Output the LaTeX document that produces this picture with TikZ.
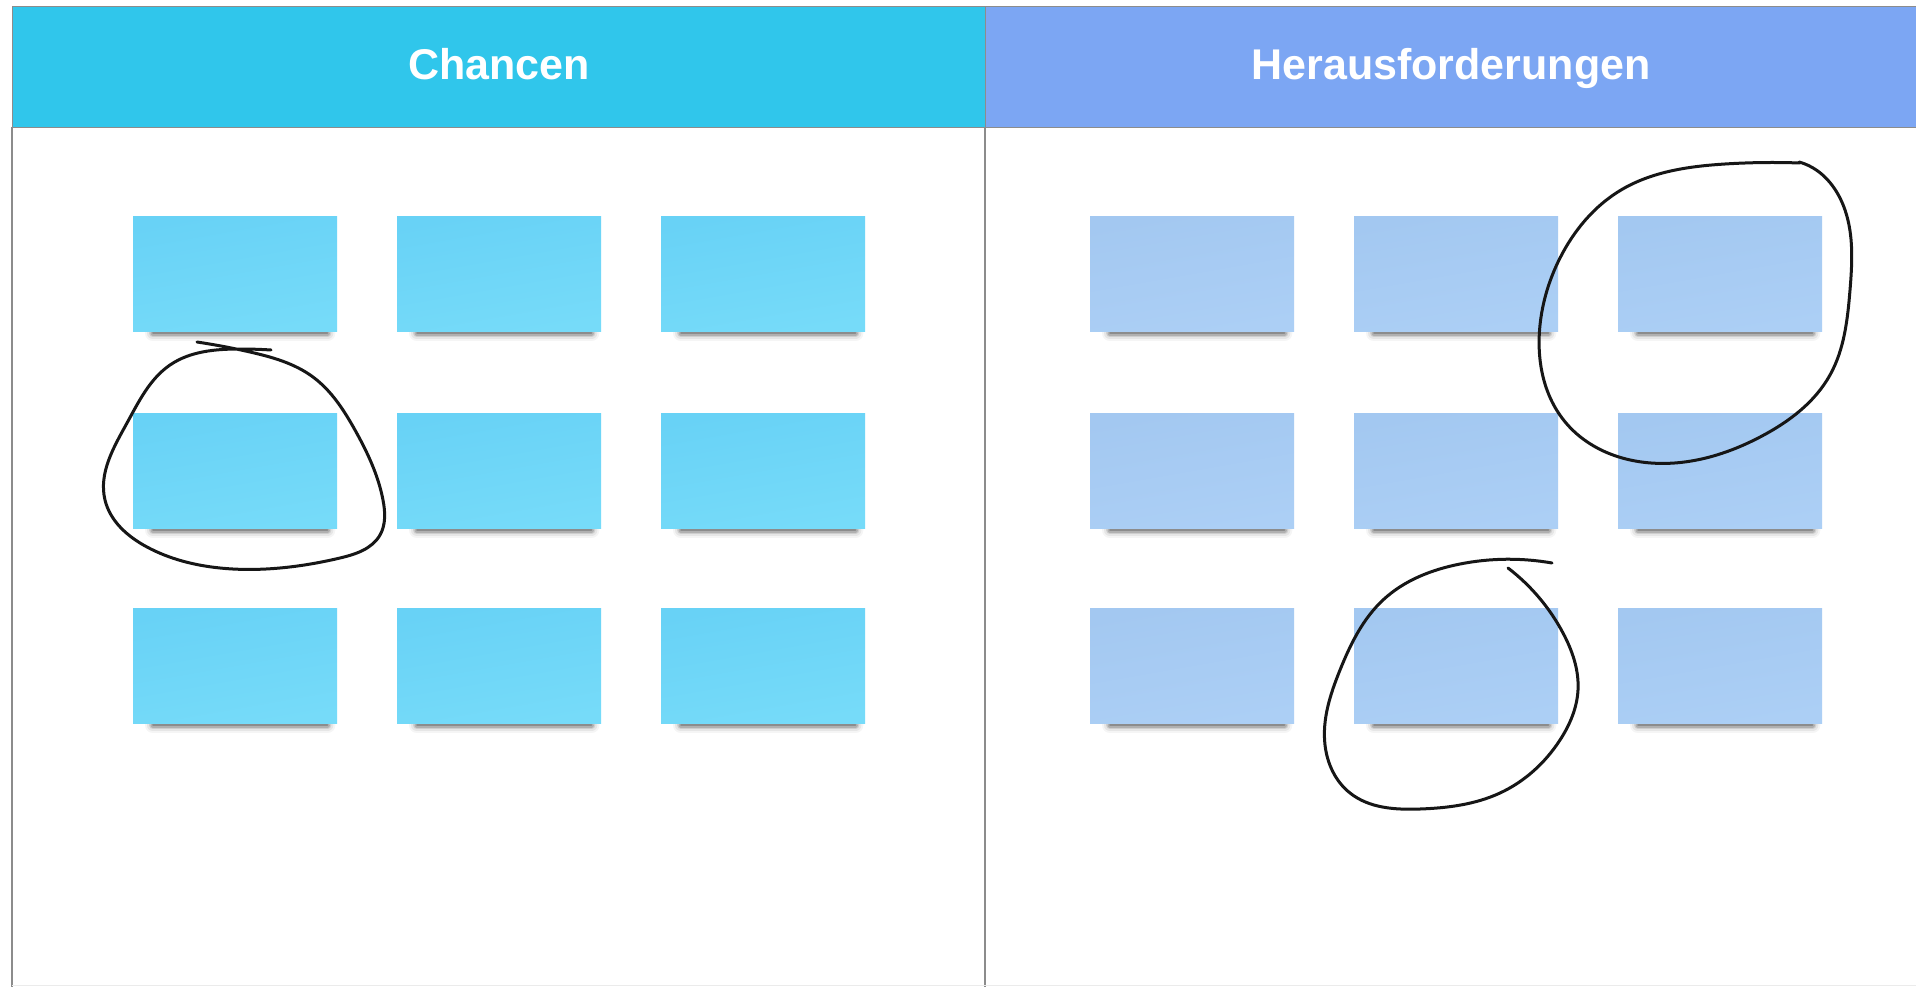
\documentclass[tikz,border=0pt]{standalone}
\usepackage{fontspec}
\setmainfont{Liberation Sans}
\usetikzlibrary{calc,hobby}
\definecolor{hdrL}{RGB}{48,198,235}
\definecolor{hdrR}{RGB}{124,166,243}
\definecolor{noteLa}{RGB}{104,210,246}
\definecolor{noteLb}{RGB}{118,219,249}
\definecolor{noteRa}{RGB}{163,200,241}
\definecolor{noteRb}{RGB}{172,207,245}
\definecolor{frameline}{RGB}{140,140,140}
\definecolor{ink}{RGB}{22,22,22}
\pgfdeclarelayer{bg}
\pgfsetlayers{bg,main}
\tikzset{
  hdr/.style={anchor=north west, rectangle, inner sep=0pt, draw=frameline, line width=1pt,
    text=white, text height=31pt, text depth=6pt, font=\bfseries\fontsize{43}{50}\selectfont},
  notebox/.style={anchor=north west, rectangle, inner sep=0pt, minimum width=204pt, minimum height=115pt},
  noteL/.style={notebox, shading=axis, top color=noteLa, bottom color=noteLb, shading angle=10},
  noteR/.style={notebox, shading=axis, top color=noteRa, bottom color=noteRb, shading angle=10},
  inkline/.style={draw=ink, line width=3pt, line cap=round, line join=round},
  shadowline/.style={line cap=round, draw=black}
}
\begin{document}
\begin{tikzpicture}[x=1pt,y=-1pt]
\useasboundingbox (0,0) rectangle (1916,987);
\begin{pgfonlayer}{bg}
\fill[white] (0,0) rectangle (1916,987);
\end{pgfonlayer}

% headers
\node[hdr, fill=hdrL, minimum width=973pt, minimum height=121pt] (hL) at (12,6) {Chancen};
\node[hdr, fill=hdrR, minimum width=931pt, minimum height=121pt] (hR) at (985,6) {Herausforderungen};

% frame lines
\coordinate (fl1) at (12,127);
\coordinate (fl2) at (12,987);
\coordinate (fd1) at (985,127);
\coordinate (fd2) at (985,987);
\coordinate (fb1) at (12,985);
\coordinate (fb2) at (1916,985);
\draw[frameline, line width=1.5pt] (fl1) -- (fl2);
\draw[frameline, line width=1.5pt] (fd1) -- (fd2);
\draw[black!8, line width=1pt] (fb1) -- (fb2);

% notes
\foreach \c/\x in {1/133,2/397,3/661} {
  \foreach \r/\y in {1/216,2/413,3/608} {
    \node[noteL] (L\r\c) at (\x,\y) {};
    \begin{pgfonlayer}{bg}
      \foreach \w/\o in {16/0.04,12/0.06,8/0.1,5/0.14,2/0.2} {
        \draw[shadowline, line width=\w pt, opacity=\o] ($(L\r\c.south west)+(20,2)$) -- ($(L\r\c.south east)+(-10,2)$);
      }
    \end{pgfonlayer}
  }
}
\foreach \c/\x in {1/1090,2/1354,3/1618} {
  \foreach \r/\y in {1/216,2/413,3/608} {
    \node[noteR] (R\r\c) at (\x,\y) {};
    \begin{pgfonlayer}{bg}
      \foreach \w/\o in {16/0.04,12/0.06,8/0.1,5/0.14,2/0.2} {
        \draw[shadowline, line width=\w pt, opacity=\o] ($(R\r\c.south west)+(20,2)$) -- ($(R\r\c.south east)+(-10,2)$);
      }
    \end{pgfonlayer}
  }
}

% freehand circles
\draw[inkline, use Hobby shortcut] (197,342) .. (250,352) .. (313,377) .. (355,430) .. (383,500) .. (380,535) .. (340,558) .. (280,568) .. (220,568) .. (147,547) .. (105,500) .. (127,423) .. (170,365) .. (240,349) .. (271,350);

\draw[inkline, use Hobby shortcut] (1800,163) .. (1725,164) .. (1621,190) .. (1560,258) .. (1540,325) .. (1566,423) .. (1651,463) .. (1762,436) .. (1830,375) .. (1850,290) .. (1845,210) .. (1805,164) .. (1799,162);

\draw[inkline, use Hobby shortcut] (1552,563) .. (1460,564) .. (1383,600) .. (1340,670) .. (1325,745) .. (1350,793) .. (1420,809) .. (1500,793) .. (1560,740) .. (1578,690) .. (1563,633) .. (1508,568);
\end{tikzpicture}
\end{document}
